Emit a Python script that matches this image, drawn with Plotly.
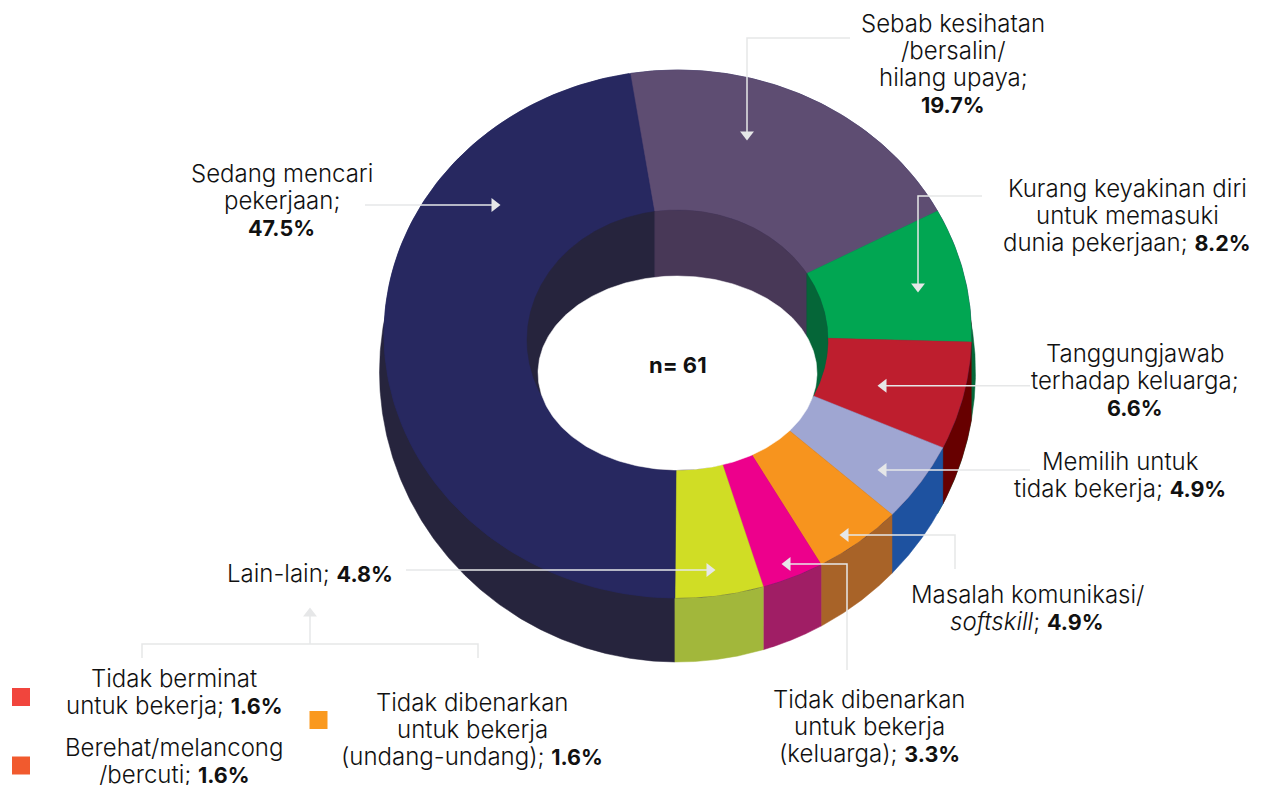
import numpy as np
import plotly.graph_objects as go

# ---- data (clockwise from the purple slice) ----
categories = ["Sebab kesihatan /bersalin/ hilang upaya",
              "Kurang keyakinan diri untuk memasuki dunia pekerjaan",
              "Tanggungjawab terhadap keluarga",
              "Memilih untuk tidak bekerja",
              "Masalah komunikasi/softskill",
              "Tidak dibenarkan untuk bekerja (keluarga)",
              "Lain-lain",
              "Sedang mencari pekerjaan"]
values = [19.7, 8.2, 6.6, 4.9, 4.9, 3.3, 4.8, 47.5]
top_colors = ["#5e4d72", "#01a652", "#be1e2e", "#9fa6d2", "#f7941e", "#ed008c", "#d0dd25", "#272860"]
side_colors = ["#483857", "#056638", "#670000", "#1e52a0", "#a86328", "#a01e65", "#a2b73b", "#26243d"]

FONT = "Inter"
TXT = "#111111"
LEAD = "#e6e7e8"
SIZE = 24
BOLD = 21.5
LINE = 27

# ---- projected geometry: (cx, cy, rx, ry) ----
TOP = (677.7, 334.0, 293.7, 264.0)
BOTTOM = (677.5, 372.0, 298.0, 290.0)
INNER = (677.5, 340.0, 150.5, 130.0)
HOLE = (677.5, 373.0, 139.5, 97.0)
START = 351.3

def pt(e, deg):
    t = np.radians(deg)
    return e[0] + e[2] * np.sin(t), e[1] - e[3] * np.cos(t)

def band(e, xa, xb):
    # part of ellipse e between two verticals, sampled by angle so the ends stay smooth
    pa = np.arcsin(np.clip((xa - e[0]) / e[2], -1, 1))
    pb = np.arcsin(np.clip((xb - e[0]) / e[2], -1, 1))
    p = np.linspace(pa, pb, 160)
    xs = e[0] + e[2] * np.sin(p)
    h = e[3] * np.cos(p)
    return (np.r_[xs, xs[::-1], xs[0]], np.r_[e[1] - h, (e[1] + h)[::-1], e[1] - h[0]])

def poly(x, y, color):
    fig.add_trace(go.Scatter(x=x, y=y, mode="lines", fill="toself", fillcolor=color,
                             line=dict(color=color, width=0.5), hoverinfo="skip", showlegend=False))

fig = go.Figure()
edges = START + np.r_[0, np.cumsum(values)] * 3.6
# perspective nudges of the printed slice edges, in degrees
outer_edges = edges + np.array([-0.5, 0, 0, 0, 0, 0, 0.4, 0.6, -0.5])
inner_edges = edges + np.array([0, -3.0, -2.5, 0, 0, 0, 0, 0.6, 0])
outer_x = [pt(TOP, a)[0] for a in outer_edges]
inner_x = [pt(INNER, a)[0] for a in inner_edges]

# outer side wall, back to front
poly(*band(BOTTOM, outer_x[1], BOTTOM[0] + BOTTOM[2]), side_colors[1])
poly(*band(BOTTOM, BOTTOM[0] - BOTTOM[2], outer_x[7]), side_colors[7])
for i in [2, 3, 4, 5, 6]:
    poly(*band(BOTTOM, outer_x[i + 1], outer_x[i]), side_colors[i])

# top face (underlay closes the seams between slices)
full = np.linspace(0, 360, 360)
poly(*pt(TOP, full), top_colors[7])
for i, c in enumerate(top_colors):
    xo, yo = pt(TOP, np.linspace(outer_edges[i], outer_edges[i + 1], 120))
    xi, yi = pt(INNER, np.linspace(inner_edges[i + 1], inner_edges[i], 120))
    poly(np.r_[xo, xi, xo[0]], np.r_[yo, yi, yo[0]], c)

# inner wall
poly(*band(INNER, INNER[0] - INNER[2], inner_x[0]), side_colors[7])
poly(*band(INNER, inner_x[0], inner_x[1]), side_colors[0])
poly(*band(INNER, inner_x[1], INNER[0] + INNER[2]), side_colors[1])

# hole
poly(*pt(HOLE, full), "#ffffff")

# ---- leader lines ----
leaders = [
    ([850, 747, 747], [38, 38, 135]),
    ([982, 918, 918], [196, 196, 288]),
    ([1030, 884], [385.7, 385.7]),
    ([1030, 884], [470, 470]),
    ([955, 955, 846], [569, 535, 535]),
    ([847, 847, 788], [670, 564, 564]),
    ([406, 708], [570, 570]),
    ([365, 494], [205, 205]),
    ([142, 142, 478, 478], [658, 644, 644, 658]),
    ([310, 310], [644, 616]),
]
for lx, ly in leaders:
    fig.add_trace(go.Scatter(x=lx, y=ly, mode="lines", line=dict(color=LEAD, width=1.5),
                             hoverinfo="skip", showlegend=False))
tips_x = [747, 918, 883.5, 883.5, 845.5, 787.5, 709.5, 494.5, 310]
tips_y = [134.5, 286.5, 385.7, 470, 535, 564, 570, 205, 613.5]
tips_sym = ["triangle-down", "triangle-down", "triangle-left", "triangle-left", "triangle-left",
            "triangle-left", "triangle-right", "triangle-right", "triangle-up"]
fig.add_trace(go.Scatter(x=tips_x, y=tips_y, mode="markers",
                         marker=dict(symbol=tips_sym, size=12, color=LEAD, line=dict(width=0)),
                         hoverinfo="skip", showlegend=False))

# ---- small legend squares ----
sq_x = [21, 21, 318.5]
sq_y = [697, 765.5, 720]
sq_c = ["#f1453d", "#f15a2e", "#fa991e"]
fig.add_trace(go.Scatter(x=sq_x, y=sq_y, mode="markers",
                         marker=dict(symbol="square", size=18, color=sq_c, line=dict(width=0)),
                         hoverinfo="skip", showlegend=False))

# ---- labels: centre x, y of the first line, lines ----
labels = [
    (953, 23.5, ["Sebab kesihatan", "/bersalin/", "hilang upaya;", "<b>19.7%</b>"]),
    (281.5, 173.5, ["Sedang mencari", "pekerjaan;", "<b>47.5%</b>"]),
    (1127, 188.5, ["Kurang keyakinan diri", "untuk memasuki", "dunia pekerjaan; <b>8.2%</b>"]),
    (1135, 353.5, ["Tanggungjawab", "terhadap keluarga;", "<b>6.6%</b>"]),
    (1120, 461.5, ["Memilih untuk", "tidak bekerja; <b>4.9%</b>"]),
    (1027, 594.5, ["Masalah komunikasi/", "<i>softskill</i>; <b>4.9%</b>"]),
    (310, 573.5, ["Lain-lain; <b>4.8%</b>"]),
    (869, 699.5, ["Tidak dibenarkan", "untuk bekerja", "(keluarga); <b>3.3%</b>"]),
    (174, 678.5, ["Tidak berminat", "untuk bekerja; <b>1.6%</b>"]),
    (174, 747, ["Berehat/melancong", "/bercuti; <b>1.6%</b>"]),
    (472, 702, ["Tidak dibenarkan", "untuk bekerja", "(undang-undang); <b>1.6%</b>"]),
]
annotations = []
for x, y0, lines in labels:
    for k, s in enumerate(lines):
        s = s.replace("<b>", f'<span style="font-size:{BOLD}px"><b>').replace("</b>", "</b></span>")
        annotations.append(dict(x=x, y=y0 + k * LINE, text=s, xref="x", yref="y", showarrow=False,
                                xanchor="center", yanchor="middle",
                                font=dict(family=FONT, size=SIZE, color=TXT, weight=300)))
annotations.append(dict(x=678, y=365, text="<b>n= 61</b>", xref="x", yref="y", showarrow=False,
                        font=dict(family=FONT, size=22, color=TXT)))

fig.update_layout(
    width=1262, height=785, margin=dict(l=0, r=0, t=0, b=0),
    paper_bgcolor="white", plot_bgcolor="white", annotations=annotations,
    xaxis=dict(range=[0, 1262], visible=False, fixedrange=True),
    yaxis=dict(range=[785, 0], visible=False, fixedrange=True),
)
fig.write_html("out.html", post_script="document.body.style.margin='0';document.body.style.overflow='hidden';",
               config={"displayModeBar": False})
